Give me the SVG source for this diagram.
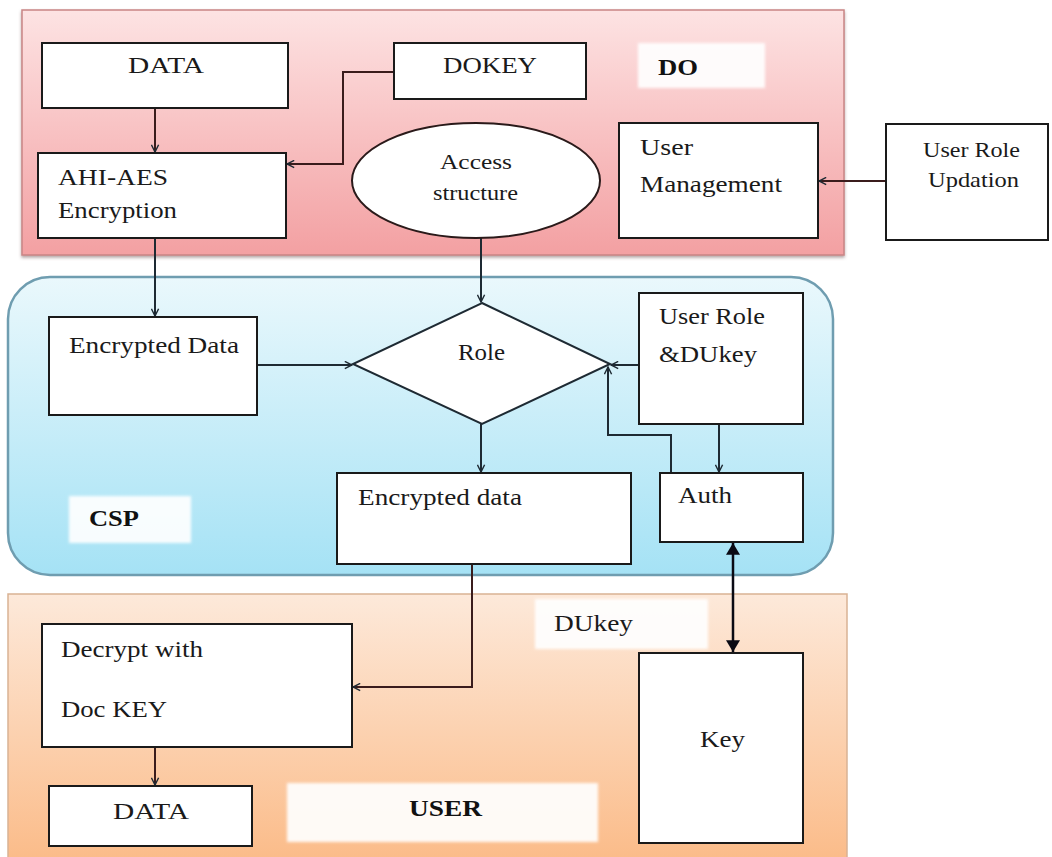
<svg xmlns="http://www.w3.org/2000/svg" width="1052" height="857" viewBox="0 0 1052 857">
  <defs>
    <linearGradient id="gradDO" x1="0" y1="0" x2="0" y2="1">
      <stop offset="0" stop-color="#fde3e3"/>
      <stop offset="1" stop-color="#f3a0a2"/>
    </linearGradient>
    <linearGradient id="gradCSP" x1="0" y1="0" x2="0" y2="1">
      <stop offset="0" stop-color="#eaf8fc"/>
      <stop offset="1" stop-color="#a5e2f5"/>
    </linearGradient>
    <linearGradient id="gradUSER" x1="0" y1="0" x2="0" y2="1">
      <stop offset="0" stop-color="#fde9da"/>
      <stop offset="1" stop-color="#fbbb88"/>
    </linearGradient>
    <filter id="soft" x="-10%" y="-10%" width="120%" height="120%">
      <feGaussianBlur stdDeviation="1.5"/>
    </filter>
    <filter id="shadow" x="-5%" y="-5%" width="110%" height="115%">
      <feDropShadow dx="0" dy="2" stdDeviation="1.5" flood-color="#6a5050" flood-opacity="0.5"/>
    </filter>
    <marker id="open" viewBox="0 0 10 10" refX="9" refY="5" markerWidth="9" markerHeight="9" markerUnits="userSpaceOnUse" orient="auto">
      <path d="M1,1 L9,5 L1,9" fill="none" stroke="#1e2a33" stroke-width="1.6"/>
    </marker>
    <marker id="filled" viewBox="0 0 10 12" refX="10" refY="6" markerWidth="14" markerHeight="14" markerUnits="userSpaceOnUse" orient="auto-start-reverse">
      <path d="M0,0 L10,6 L0,12 Z" fill="#0a0a14"/>
    </marker>
  </defs>
  <style>
    .box { fill: #ffffff; stroke: #1a1a1a; stroke-width: 2; }
    .tag { fill: #ffffff; opacity: 0.92; filter: url(#soft); }
    .t { font-family: "Liberation Serif", "DejaVu Serif", serif; font-size: 24px; fill: #1a1a1a; }
    .ts { font-family: "Liberation Serif", "DejaVu Serif", serif; font-size: 21px; fill: #1a1a1a; }
    .tb { font-family: "Liberation Serif", "DejaVu Serif", serif; font-size: 23px; font-weight: bold; fill: #111111; }
    .c { fill: none; stroke: #1e2a33; stroke-width: 2; marker-end: url(#open); }
    .cr { stroke: #3a1c1c; }
  </style>

  <rect width="1052" height="857" fill="#ffffff"/>

  <!-- swimlane panels -->
  <g id="panel-do">
    <rect x="22" y="10" width="822" height="245" fill="url(#gradDO)" stroke="#c98585" stroke-width="1.5" filter="url(#shadow)"/>
    <rect class="tag" x="638" y="43" width="127" height="45"/>
    <text class="tb" x="658" y="75" textLength="40" lengthAdjust="spacingAndGlyphs">DO</text>
  </g>
  <g id="panel-csp">
    <rect x="8" y="277" width="825" height="298" rx="42" ry="42" fill="url(#gradCSP)" stroke="#6f9db0" stroke-width="2.5"/>
    <rect class="tag" x="69" y="496" width="122" height="47"/>
    <text class="tb" x="89" y="526" textLength="50" lengthAdjust="spacingAndGlyphs">CSP</text>
  </g>
  <g id="panel-user">
    <rect x="8" y="594" width="839" height="270" fill="url(#gradUSER)" stroke="#d9b294" stroke-width="1.5"/>
    <rect class="tag" x="287" y="783" width="311" height="59"/>
    <text class="tb" x="409" y="816" textLength="73" lengthAdjust="spacingAndGlyphs">USER</text>
    <rect class="tag" x="535" y="599" width="173" height="50"/>
    <text class="t" x="554" y="631" textLength="79" lengthAdjust="spacingAndGlyphs">DUkey</text>
  </g>

  <!-- connectors -->
  <g id="connectors">
    <path class="c cr" d="M155,108 V152"/>
    <path class="c cr" d="M394,72 H343 V164 H287"/>
    <path class="c" d="M155,238 V316"/>
    <path class="c" d="M481,238 V302"/>
    <path class="c cr" d="M886,181 H819"/>
    <path class="c" d="M257,365 H352"/>
    <path class="c" d="M639,365 H611"/>
    <path class="c" d="M481,424 V472"/>
    <path class="c" d="M719,424 V472"/>
    <path class="c" d="M671,473 V435 H608 V367"/>
    <path class="c cr" d="M472,564 V687 H353"/>
    <path class="c cr" d="M155,747 V785"/>
    <path d="M733,543 V652" fill="none" stroke="#0a0a14" stroke-width="2.5" marker-start="url(#filled)" marker-end="url(#filled)"/>
  </g>

  <!-- DO lane nodes -->
  <g id="node-data-top">
    <rect class="box" x="42" y="43" width="246" height="65"/>
    <text class="t" x="128" y="73" textLength="76" lengthAdjust="spacingAndGlyphs">DATA</text>
  </g>
  <g id="node-dokey">
    <rect class="box" x="394" y="43" width="192" height="56"/>
    <text class="t" x="443" y="73" textLength="94" lengthAdjust="spacingAndGlyphs">DOKEY</text>
  </g>
  <g id="node-ahi-aes">
    <rect class="box" x="38" y="153" width="248" height="85"/>
    <text class="t" x="58" y="185" textLength="110" lengthAdjust="spacingAndGlyphs">AHI-AES</text>
    <text class="t" x="58" y="218" textLength="119" lengthAdjust="spacingAndGlyphs">Encryption</text>
  </g>
  <g id="node-access-structure">
    <ellipse cx="476" cy="180.5" rx="124" ry="57.5" fill="#ffffff" stroke="#2a1a1a" stroke-width="2"/>
    <text class="ts" x="440" y="169" textLength="72" lengthAdjust="spacingAndGlyphs">Access</text>
    <text class="ts" x="433" y="200" textLength="85" lengthAdjust="spacingAndGlyphs">structure</text>
  </g>
  <g id="node-user-management">
    <rect class="box" x="619" y="123" width="199" height="115"/>
    <text class="t" x="640" y="155" textLength="53" lengthAdjust="spacingAndGlyphs">User</text>
    <text class="t" x="640" y="192" textLength="142" lengthAdjust="spacingAndGlyphs">Management</text>
  </g>
  <g id="node-user-role-updation">
    <rect class="box" x="886" y="124" width="162" height="116"/>
    <text class="ts" x="923" y="157" textLength="97" lengthAdjust="spacingAndGlyphs">User Role</text>
    <text class="ts" x="928" y="187" textLength="91" lengthAdjust="spacingAndGlyphs">Updation</text>
  </g>

  <!-- CSP lane nodes -->
  <g id="node-encrypted-data-csp">
    <rect class="box" x="49" y="317" width="208" height="98"/>
    <text class="t" x="69" y="353" textLength="170" lengthAdjust="spacingAndGlyphs">Encrypted Data</text>
  </g>
  <g id="node-role">
    <polygon points="482,303 610,364 482,424 353,364" fill="#ffffff" stroke="#1e2a33" stroke-width="2"/>
    <text class="t" x="458" y="360" textLength="47" lengthAdjust="spacingAndGlyphs">Role</text>
  </g>
  <g id="node-user-role-dukey">
    <rect class="box" x="639" y="293" width="164" height="131"/>
    <text class="t" x="659" y="324" textLength="106" lengthAdjust="spacingAndGlyphs">User Role</text>
    <text class="t" x="659" y="362" textLength="98" lengthAdjust="spacingAndGlyphs">&amp;DUkey</text>
  </g>
  <g id="node-encrypted-data-out">
    <rect class="box" x="337" y="473" width="294" height="91"/>
    <text class="t" x="358" y="505" textLength="164" lengthAdjust="spacingAndGlyphs">Encrypted data</text>
  </g>
  <g id="node-auth">
    <rect class="box" x="660" y="473" width="143" height="69"/>
    <text class="t" x="678" y="503" textLength="54" lengthAdjust="spacingAndGlyphs">Auth</text>
  </g>

  <!-- USER lane nodes -->
  <g id="node-decrypt">
    <rect class="box" x="42" y="624" width="310" height="123"/>
    <text class="t" x="61" y="657" textLength="142" lengthAdjust="spacingAndGlyphs">Decrypt with</text>
    <text class="t" x="61" y="717" textLength="106" lengthAdjust="spacingAndGlyphs">Doc KEY</text>
  </g>
  <g id="node-data-bottom">
    <rect class="box" x="49" y="786" width="203" height="60"/>
    <text class="t" x="113" y="819" textLength="76" lengthAdjust="spacingAndGlyphs">DATA</text>
  </g>
  <g id="node-key">
    <rect class="box" x="639" y="653" width="164" height="190"/>
    <text class="t" x="700" y="747" textLength="45" lengthAdjust="spacingAndGlyphs">Key</text>
  </g>
</svg>
